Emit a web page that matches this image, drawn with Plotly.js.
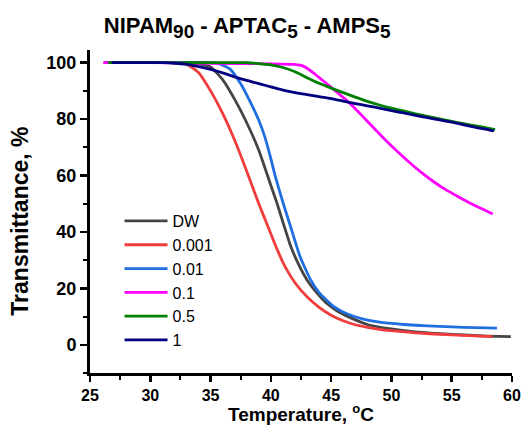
<!DOCTYPE html>
<html>
<head>
<meta charset="utf-8">
<script src="https://cdn.plot.ly/plotly-3.0.1.min.js"></script>
<style>html,body{margin:0;padding:0;background:#fff;}#chart{width:526px;height:425px;}</style>
</head>
<body>
<div id="chart"></div>
<script>
// Series names
var seriesNames = ["DW", "0.001", "0.01", "0.1", "0.5", "1"];

// DW
var xDW = [26.2, 30, 33, 34, 35, 36, 37, 37.9, 39, 40, 40.5, 41, 41.6, 42.3, 43, 43.8, 44.6, 45.5, 46.5, 48, 50, 52, 55, 58, 59.9];
var yDW = [100, 100, 100, 99.6, 98.5, 94, 87, 79.6, 69, 56.5, 50.3, 43.5, 35.5, 28.5, 23, 18.5, 14.8, 12, 9.8, 7.2, 5.6, 4.6, 3.7, 3.1, 2.9];

// 0.001
var x0001 = [26.2, 30, 32, 33, 34, 35, 36, 37, 38, 39, 39.8, 40.5, 41.2, 42, 43, 44, 45, 46, 47, 48, 49, 50, 52, 55, 58.4];
var y0001 = [100, 100, 100, 99.5, 96.5, 90, 82, 72.5, 61.5, 50, 41.5, 34, 27.5, 22, 17, 13.3, 10.5, 8.5, 7.1, 6.2, 5.5, 5, 4.2, 3.5, 2.9];

// 0.01
var x001 = [26.2, 30, 35, 35.8, 36.6, 37.5, 38.3, 39, 39.5, 40, 40.35, 41, 41.7, 42.4, 43.3, 44, 45.2, 46.3, 47.5, 49, 51, 53, 56, 58.75];
var y001 = [100, 100, 100, 99.5, 97.8, 92.5, 86, 79.6, 73.7, 66, 60, 50.5, 41, 31.5, 23, 18.5, 13.6, 11, 9.3, 8, 7.2, 6.7, 6.2, 5.9];

// 0.1
var x01 = [26.1, 30, 35, 40, 41.9, 42.7, 43.5, 44.5, 45.5, 46.5, 47.5, 48.5, 49.5, 50.5, 51.5, 52.5, 53.5, 54.5, 55.5, 56.5, 57.5, 58.4];
var y01 = [100, 100, 99.8, 99.6, 99.4, 98.8, 96.5, 93, 89.5, 85.8, 81.5, 77, 72.6, 68.5, 64.6, 61, 57.8, 55, 52.6, 50.3, 48.2, 46.4];

// 0.5
var x05 = [26.5, 30, 35, 38, 39, 40, 41, 42, 43, 44, 45, 46, 47, 48, 49, 50, 51, 52, 53, 54, 55, 56, 57, 58, 58.6];
var y05 = [100, 100, 100, 100, 99.7, 99.2, 98.3, 96.8, 94.7, 92.7, 91, 89.4, 87.8, 86.3, 85, 83.9, 82.9, 81.9, 81, 80.1, 79.2, 78.4, 77.6, 76.8, 76.3];

// 1
var x1 = [26.8, 31, 32, 33, 34, 35, 36, 37, 38, 39, 40, 41, 42, 43, 44, 45, 46, 47, 48, 49, 50, 51, 52, 53, 54, 55, 56, 57, 58, 58.5];
var y1 = [100, 100, 99.8, 99.4, 98.6, 97.6, 96.4, 95, 93.7, 92.6, 91.4, 90.3, 89.4, 88.7, 88, 87.3, 86.4, 85.5, 84.7, 83.9, 83, 82.2, 81.3, 80.5, 79.7, 78.9, 78, 77.1, 76.3, 75.8];

var xTicks = [25, 30, 35, 40, 45, 50, 55, 60];
var yTicks = [0, 20, 40, 60, 80, 100];

var colors = ["#444444", "#f03c3c", "#1f6fe0", "#ff00ff", "#008000", "#000080"];
var xs = [xDW, x0001, x001, x01, x05, x1];
var ys = [yDW, y0001, y001, y01, y05, y1];

var font = "Arial, 'Liberation Sans', sans-serif";
var traces = seriesNames.map(function(n, i) {
  return {x: xs[i], y: ys[i], name: n, type: "scatter", mode: "lines",
          line: {color: colors[i], width: 2.8, shape: "spline", smoothing: 0.5}};
});

function boldLabels(v) { return v.map(function(t) { return "<b>" + t + "</b>"; }); }
function sub(t) { return "<sub><span style='font-size:19px'>" + t + "</span></sub>"; }

var layout = {
  width: 526, height: 425,
  margin: {l: 90, r: 14, t: 50, b: 52},
  paper_bgcolor: "#fff", plot_bgcolor: "#fff",
  font: {family: font, color: "#000"},
  title: {text: "<b>NIPAM" + sub("90") + " - APTAC" + sub("5") + " - AMPS" + sub("5") + "</b>",
          font: {family: font, size: 22, color: "#000"},
          xref: "container", x: 0.47, xanchor: "center", yref: "container", y: 0.94, yanchor: "middle"},
  xaxis: {range: [25, 60], tickmode: "array", tickvals: xTicks, ticktext: boldLabels(xTicks),
          showgrid: false, zeroline: false,
          showline: true, linewidth: 3, linecolor: "#000",
          ticks: "outside", ticklen: 6, tickwidth: 2.5, tickcolor: "#000",
          tickfont: {family: font, size: 16, color: "#000"},
          minor: {dtick: 2.5, tick0: 25, ticks: "outside", ticklen: 4, tickwidth: 2, tickcolor: "#000", showgrid: false},
          title: {text: "<b>Temperature, <sup><span style='font-size:13px'>o</span></sup>C</b>", font: {family: font, size: 19, color: "#000"}, standoff: 7}},
  yaxis: {range: [-10, 104.5], tickmode: "array", tickvals: yTicks, ticktext: boldLabels(yTicks),
          showgrid: false, zeroline: false,
          showline: true, linewidth: 3, linecolor: "#000",
          ticks: "outside", ticklen: 7, tickwidth: 2.5, tickcolor: "#000",
          tickfont: {family: font, size: 18, color: "#000"},
          minor: {dtick: 10, tick0: 0, ticks: "outside", ticklen: 4, tickwidth: 2, tickcolor: "#000", showgrid: false},
          title: {text: "<b>Transmittance, %\u00a0\u00a0\u00a0</b>", font: {family: font, size: 23, color: "#000"}, standoff: 12}},
  showlegend: true,
  legend: {x: 0.07, xanchor: "left", y: 0.523, yanchor: "top", bgcolor: "rgba(0,0,0,0)",
           font: {family: font, size: 16, color: "#000"}, itemwidth: 43, tracegroupgap: 0}
};

Plotly.newPlot("chart", traces, layout, {staticPlot: true, displayModeBar: false});
</script>
</body>
</html>
